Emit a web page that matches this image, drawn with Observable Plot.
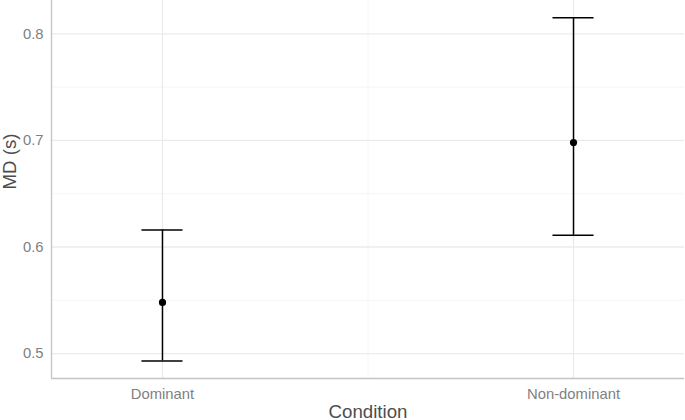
<!DOCTYPE html>
<html>
<head>
<meta charset="utf-8">
<script src="https://cdn.jsdelivr.net/npm/d3@7"></script>
<script src="https://cdn.jsdelivr.net/npm/@observablehq/plot@0.6"></script>
<style>
  html, body { margin: 0; padding: 0; background: #fff; }
  svg { display: block; }
</style>
</head>
<body>
<div id="chart"></div>
<script>
const conditions = ["Dominant", "Non-dominant"];
const means = [0.548, 0.698];
const lower = [0.493, 0.611];
const upper = [0.616, 0.815];
const yTicks = [0.5, 0.6, 0.7, 0.8];
const yMinorTicks = [0.55, 0.65, 0.75];
const xMinorTicks = [1.5];
const yLabel = "MD (s)";
const xLabel = "Condition";

const capHalf = 0.05;
const data = conditions.map((c, i) => ({pos: i + 1, condition: c, mean: means[i], lo: lower[i], hi: upper[i]}));
const xTicks = data.map(d => d.pos);

const font = "Liberation Sans, Arial, Helvetica, sans-serif";

const chart = Plot.plot({
  width: 685,
  height: 420,
  marginLeft: 51,
  marginRight: 1,
  marginTop: 0,
  marginBottom: 42,
  style: {fontFamily: font, background: "#fff"},
  x: {type: "linear", domain: [0.73, 2.27]},
  y: {domain: [0.4766, 0.83125]},
  marks: [
    Plot.gridY(yMinorTicks, {stroke: "#f4f4f4", strokeOpacity: 1, strokeWidth: 0.8}),
    Plot.gridX(xMinorTicks, {stroke: "#f4f4f4", strokeOpacity: 1, strokeWidth: 0.8}),
    Plot.gridY(yTicks, {stroke: "#ebebeb", strokeOpacity: 1, strokeWidth: 1.3}),
    Plot.gridX(xTicks, {stroke: "#ebebeb", strokeOpacity: 1, strokeWidth: 1.3}),
    Plot.axisY(yTicks, {tickSize: 0, tickPadding: 8, fontSize: 14.8, fill: "#7f7f7f", label: null, tickFormat: d3.format(".1f")}),
    Plot.axisX(xTicks, {tickSize: 0, tickPadding: 9.5, fontSize: 14.8, fill: "#7f7f7f", label: null, tickFormat: d => conditions[d - 1]}),
    Plot.ruleX([0.73], {stroke: "#c4c4c4", strokeWidth: 1.3}),
    Plot.ruleY([0.4766], {stroke: "#c4c4c4", strokeWidth: 1.3}),
    Plot.ruleX(data, {x: "pos", y1: "lo", y2: "hi", stroke: "#000", strokeWidth: 1.5}),
    Plot.ruleY(data, {y: "hi", x1: d => d.pos - capHalf, x2: d => d.pos + capHalf, stroke: "#000", strokeWidth: 1.5}),
    Plot.ruleY(data, {y: "lo", x1: d => d.pos - capHalf, x2: d => d.pos + capHalf, stroke: "#000", strokeWidth: 1.5}),
    Plot.dot(data, {x: "pos", y: "mean", r: 3.6, fill: "#000", stroke: "none"}),
    Plot.text([yLabel], {frameAnchor: "left", rotate: -90, dx: -41.5, fontSize: 18.7, fill: "#4d4d4d", text: d => d}),
    Plot.text([xLabel], {frameAnchor: "bottom", dy: 34, lineAnchor: "middle", fontSize: 18.7, fill: "#4d4d4d", text: d => d})
  ]
});
document.getElementById("chart").appendChild(chart);
</script>
</body>
</html>
